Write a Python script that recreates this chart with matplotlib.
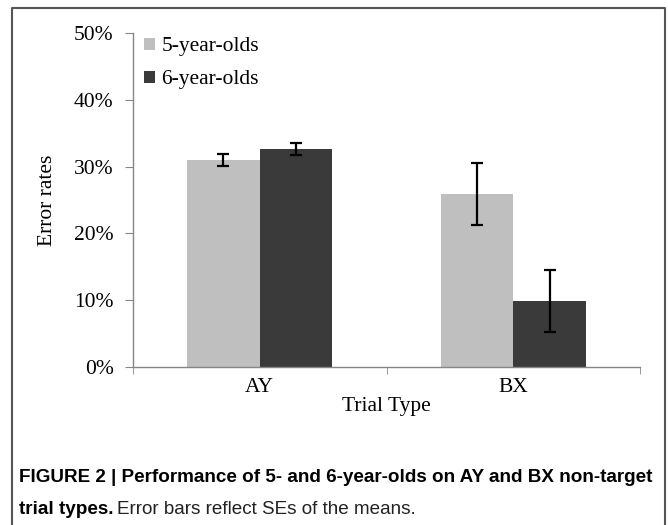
import matplotlib
matplotlib.use('Agg')
from matplotlib import pyplot as plt
from matplotlib.lines import Line2D
import numpy as np

categories = ['AY', 'BX']
series = ['5-year-olds', '6-year-olds']
values_5 = [0.310, 0.259]
values_6 = [0.327, 0.099]
err_5 = [0.009, 0.046]
err_6 = [0.009, 0.046]
colors = ['#bfbfbf', '#3a3a3a']

serif = ['Liberation Serif', 'DejaVu Serif']
narrow = ['Liberation Sans Narrow', 'Liberation Sans', 'DejaVu Sans']

fig = plt.figure(figsize=(6.68, 5.25), dpi=100)
ax = fig.add_axes([133 / 668, 1 - 367 / 525, 507 / 668, 334 / 525])

x = np.arange(len(categories))
w = 0.286
for i, (vals, errs) in enumerate([(values_5, err_5), (values_6, err_6)]):
    ax.bar(x + (i - 0.5) * w, vals, width=w, color=colors[i], label=series[i], zorder=2)
    ax.errorbar(x + (i - 0.5) * w, vals, yerr=errs, fmt='none', ecolor='black',
                elinewidth=1.6, capsize=4, capthick=1.6, zorder=3)

ax.set_xlim(-0.5, 1.5)
ax.set_ylim(0, 0.5)
ax.set_yticks([0, 0.1, 0.2, 0.3, 0.4, 0.5])
ax.set_yticklabels(['0%', '10%', '20%', '30%', '40%', '50%'], family=serif, fontsize=15.5)
ax.set_xticks(x)
ax.set_xticklabels(categories, family=serif, fontsize=15.5)
ax.tick_params(axis='x', length=0, pad=8)
ax.set_xticks([-0.5, 0.5, 1.5], minor=True)
ax.tick_params(axis='x', which='minor', length=5, color='#868686', direction='out')
ax.tick_params(axis='y', length=6, color='#868686', pad=8)
for s in ['top', 'right']:
    ax.spines[s].set_visible(False)
for s in ['left', 'bottom']:
    ax.spines[s].set_color('#868686')
    ax.spines[s].set_linewidth(1.0)

ax.set_xlabel('Trial Type', family=serif, fontsize=15.5, labelpad=0)
ax.set_ylabel('Error rates', family=serif, fontsize=15.5, labelpad=12)

ax.legend(loc='upper left', bbox_to_anchor=(-0.016, 1.045), frameon=False,
          prop={'family': serif, 'size': 15.5}, handlelength=0.5, handleheight=0.5,
          handletextpad=0.3, labelspacing=0.65)

# outer frame (open at the bottom)
fig.add_artist(Line2D([12 / 668, 12 / 668, 665 / 668, 665 / 668],
                      [0, 1 - 8 / 525, 1 - 8 / 525, 0],
                      transform=fig.transFigure, color='#555555', lw=1.5))

fig.text(19 / 668, 1 - 477 / 525, 'FIGURE 2 | Performance of 5- and 6-year-olds on AY and BX non-target',
         family=narrow, fontsize=13.6, fontweight='bold', va='center', ha='left')
t1 = fig.text(19 / 668, 1 - 509 / 525, 'trial types.', family=narrow, fontsize=13.6,
              fontweight='bold', va='center', ha='left')
fig.canvas.draw()
bb = t1.get_window_extent()
fig.text(bb.x1 / fig.bbox.width + 4 / 668, 1 - 509 / 525, 'Error bars reflect SEs of the means.',
         family=narrow, fontsize=13.6, va='center', ha='left', color='#222222')

fig.savefig('out.png', dpi=100)
